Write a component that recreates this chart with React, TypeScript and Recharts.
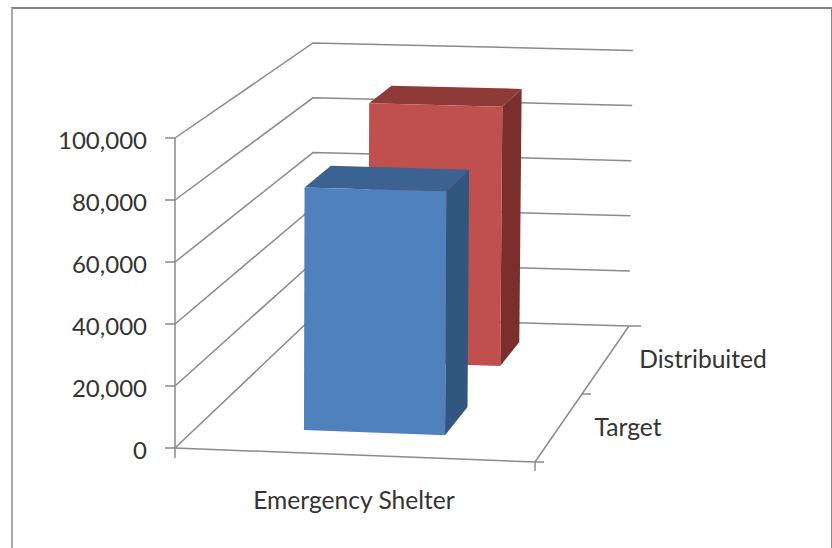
import React from 'react';
import { BarChart, Bar, XAxis, YAxis, CartesianGrid } from 'recharts';

// Chart values
const categories = ['Emergency Shelter'];
const targetValues = [79500];
const distributedValues = [90300];
const valueTicks = [0, 20000, 40000, 60000, 80000, 100000];
const depthLabels = ['Target', 'Distribuited'];

const rows = categories.map((category, i) => ({
  category,
  target: targetValues[i],
  distributed: distributedValues[i],
}));

// Front plane of the plot area in page pixels
const PLOT_LEFT = 175;
const PLOT_TOP = 138;
const PLOT_WIDTH = 360;
const PLOT_HEIGHT = 310;
const BAR_WIDTH = 144;

// Corners of the oblique box: [x, y] on the floor and at the top of the value range
type Pt = [number, number];
const FRONT_LEFT: [Pt, Pt] = [[175, 448], [175, 138]];
const FRONT_RIGHT: [Pt, Pt] = [[535, 462], [537, 148]];
const BACK_LEFT: [Pt, Pt] = [[313, 317], [313, 43]];
const BACK_RIGHT: [Pt, Pt] = [[629, 326], [633, 50.5]];

const mix = (a: Pt, b: Pt, k: number): Pt => [a[0] + (b[0] - a[0]) * k, a[1] + (b[1] - a[1]) * k];

// Maps across (u), into the depth (t) and up the value range (v) to a screen point
const project = (u: number, t: number, v: number): Pt => {
  const floor = mix(mix(FRONT_LEFT[0], FRONT_RIGHT[0], u), mix(BACK_LEFT[0], BACK_RIGHT[0], u), t);
  const top = mix(mix(FRONT_LEFT[1], FRONT_RIGHT[1], u), mix(BACK_LEFT[1], BACK_RIGHT[1], u), t);
  return mix(floor, top, v);
};

const pts = (list: Pt[]) => list.map((p) => p.join(',')).join(' ');

const GRID_COLOR = '#8a8a8a';

// One wall gridline per value tick, bent at the back corner; the zero line also outlines the floor
const WallLine = (props: any) => {
  const v = (PLOT_TOP + PLOT_HEIGHT - props.y1) / PLOT_HEIGHT;
  const a = project(0, 0, v);
  const b = project(0, 1, v);
  const c = project(1, 1, v);
  const isFloor = Math.abs(v) < 1e-6;
  const fr = project(1, 0, 0);
  const mid = project(1, 0.5, 0);
  const stroke = { stroke: GRID_COLOR, strokeWidth: 1.5, fill: 'none' };
  return (
    <g>
      <polyline points={pts([a, b, c])} {...stroke} />
      {isFloor && (
        <>
          <polyline points={pts([a, fr, c])} {...stroke} />
          <line x1={a[0]} y1={a[1]} x2={a[0]} y2={a[1] + 10} {...stroke} />
          <line x1={fr[0]} y1={fr[1]} x2={fr[0]} y2={fr[1] + 9} {...stroke} />
          <line x1={fr[0]} y1={fr[1]} x2={fr[0] + 9} y2={fr[1]} {...stroke} />
          <line x1={mid[0]} y1={mid[1]} x2={mid[0] + 9} y2={mid[1]} {...stroke} />
          <line x1={c[0]} y1={c[1]} x2={c[0] + 12} y2={c[1]} {...stroke} />
        </>
      )}
    </g>
  );
};

// Draws a bar as a solid block, sized from the rectangle the value axis gives it
const blockShape = (t0: number, t1: number, front: string, top: string, side: string) => (props: any) => {
  const u0 = (props.x - PLOT_LEFT) / PLOT_WIDTH;
  const u1 = (props.x + props.width - PLOT_LEFT) / PLOT_WIDTH;
  const v = props.height / PLOT_HEIGHT;
  return (
    <g>
      <polygon
        points={pts([project(u0, t0, v), project(u0, t1, v), project(u1, t1, v), project(u1, t0, v)])}
        fill={top}
      />
      <polygon
        points={pts([project(u1, t0, 0), project(u1, t1, 0), project(u1, t1, v), project(u1, t0, v)])}
        fill={side}
      />
      <polygon
        points={pts([project(u0, t0, 0), project(u1, t0, 0), project(u1, t0, v), project(u0, t0, v)])}
        fill={front}
      />
    </g>
  );
};

const FONT = 'Lato, sans-serif';
const TEXT_COLOR = '#333333';

export default function App() {
  return (
    <div style={{ position: 'absolute', left: 0, top: 0, width: 832, height: 548, overflow: 'hidden', background: '#fff' }}>
      <div
        style={{
          position: 'absolute',
          left: 11,
          top: 7,
          width: 818,
          height: 600,
          borderTop: '2px solid #858585',
          borderLeft: '2px solid #a8a8a8',
          borderRight: '2px solid #858585',
        }}
      />
      <div style={{ position: 'absolute', left: 0, top: 0 }}>
        <BarChart
          width={832}
          height={548}
          data={rows}
          margin={{ top: PLOT_TOP, left: PLOT_LEFT - 110, right: 832 - PLOT_LEFT - PLOT_WIDTH, bottom: 40 }}
          barSize={BAR_WIDTH}
          barGap={-BAR_WIDTH}
        >
          <CartesianGrid vertical={false} horizontal={(p: any) => <WallLine key={p.key ?? p.index} {...p} />} />
          <XAxis
            dataKey="category"
            height={60}
            axisLine={false}
            tickLine={false}
            tickSize={0}
            tickMargin={44}
            tick={{ fontSize: 24.6, fontFamily: FONT, fill: TEXT_COLOR, dx: -1 }}
          />
          <YAxis
            width={110}
            domain={[0, 100000]}
            ticks={valueTicks}
            interval={0}
            tickSize={10}
            tickMargin={18}
            axisLine={{ stroke: GRID_COLOR, strokeWidth: 1.5 }}
            tickLine={{ stroke: GRID_COLOR, strokeWidth: 1.5 }}
            tickFormatter={(n: number) => n.toLocaleString('en-US')}
            tick={{ fontSize: 24, fontFamily: FONT, fill: TEXT_COLOR, dy: 2 }}
          />
          <Bar
            dataKey="distributed"
            isAnimationActive={false}
            shape={blockShape(0.683, 0.861, '#C0504D', '#8E3A38', '#7B2E2C')}
          />
          <Bar
            dataKey="target"
            isAnimationActive={false}
            shape={blockShape(0.168, 0.378, '#4F81BD', '#3B6290', '#315680')}
          />
          <text x={628} y={426} textAnchor="middle" dominantBaseline="central" fontSize={24.6} fontFamily={FONT} fill={TEXT_COLOR}>
            {depthLabels[0]}
          </text>
          <text x={703} y={358} textAnchor="middle" dominantBaseline="central" fontSize={24.6} fontFamily={FONT} fill={TEXT_COLOR}>
            {depthLabels[1]}
          </text>
        </BarChart>
      </div>
    </div>
  );
}
